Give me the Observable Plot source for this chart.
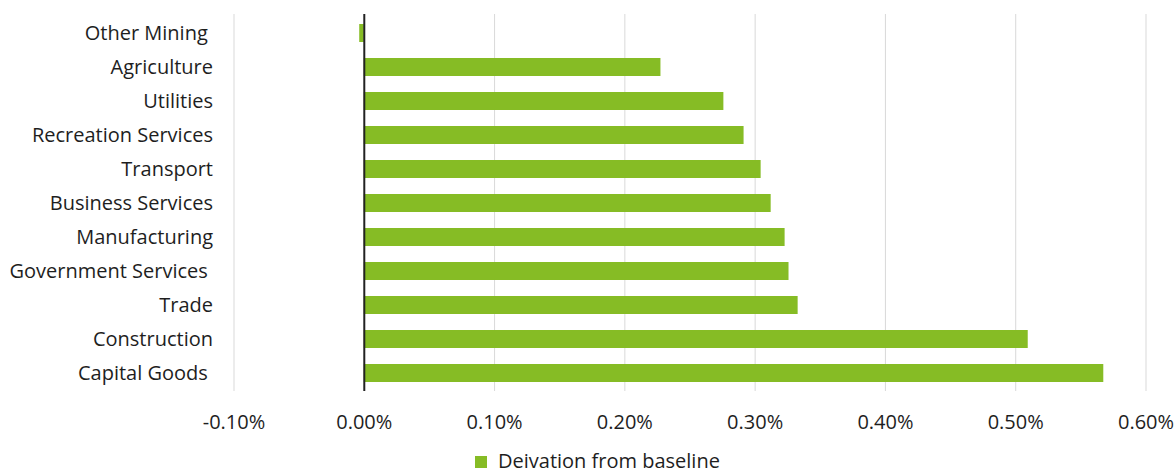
<!DOCTYPE html>
<html><head><meta charset="utf-8">
<script src="https://cdn.jsdelivr.net/npm/d3@7"></script>
<script src="https://cdn.jsdelivr.net/npm/@observablehq/plot@0.6"></script>
<style>
body{margin:0;background:#fff;font-family:"Open Sans",sans-serif;}
svg text{white-space:pre;}
#legend{position:relative;height:33px;width:1176px;}
#legend .sw{position:absolute;left:475px;top:16px;width:12px;height:12px;background:#86BC25;}
#legend .lb{position:absolute;left:498px;top:8px;font-size:20px;line-height:26px;color:#1e1e1e;}
</style></head><body><div id="chart"></div>
<div id="legend"><div class="sw"></div><div class="lb"></div></div>
<script>
const sectors = ["Other Mining ", "Agriculture", "Utilities", "Recreation Services", "Transport", "Business Services", "Manufacturing", "Government Services ", "Trade", "Construction", "Capital Goods "];
const deviations = [-0.0035, 0.2277, 0.2760, 0.2915, 0.3046, 0.3123, 0.3230, 0.3260, 0.3330, 0.5096, 0.5676];
const xTicks = [-0.1, 0, 0.1, 0.2, 0.3, 0.4, 0.5, 0.6];
const seriesName = "Deivation from baseline";
const barColor = "#86BC25";

const data = sectors.map((s, i) => ({sector: s, value: deviations[i]}));

const plot = Plot.plot({
  width: 1176, height: 440,
  marginLeft: 233.5, marginRight: 30.5, marginTop: 14, marginBottom: 49,
  style: {fontFamily: "Open Sans", fontSize: "20px", color: "#1e1e1e", background: "#fff"},
  x: {domain: [-0.1, 0.6], label: null},
  y: {domain: sectors, paddingInner: 0.475, paddingOuter: 0.23, label: null},
  marks: [
    Plot.gridX(xTicks.filter(d => d !== 0), {stroke: "#d9d9d9", strokeOpacity: 1, strokeWidth: 1}),
    Plot.barX(data, {x: "value", y: "sector", fill: barColor}),
    Plot.ruleX([0], {stroke: "#222", strokeWidth: 2}),
    Plot.axisX(xTicks, {tickSize: 0, tickPadding: 23, tickFormat: d => d.toFixed(2) + "%", label: null}),
    Plot.axisY({tickSize: 0, tickPadding: 21, label: null})
  ]
});
document.getElementById("chart").appendChild(plot);
document.querySelector("#legend .lb").textContent = seriesName;
</script></body></html>
